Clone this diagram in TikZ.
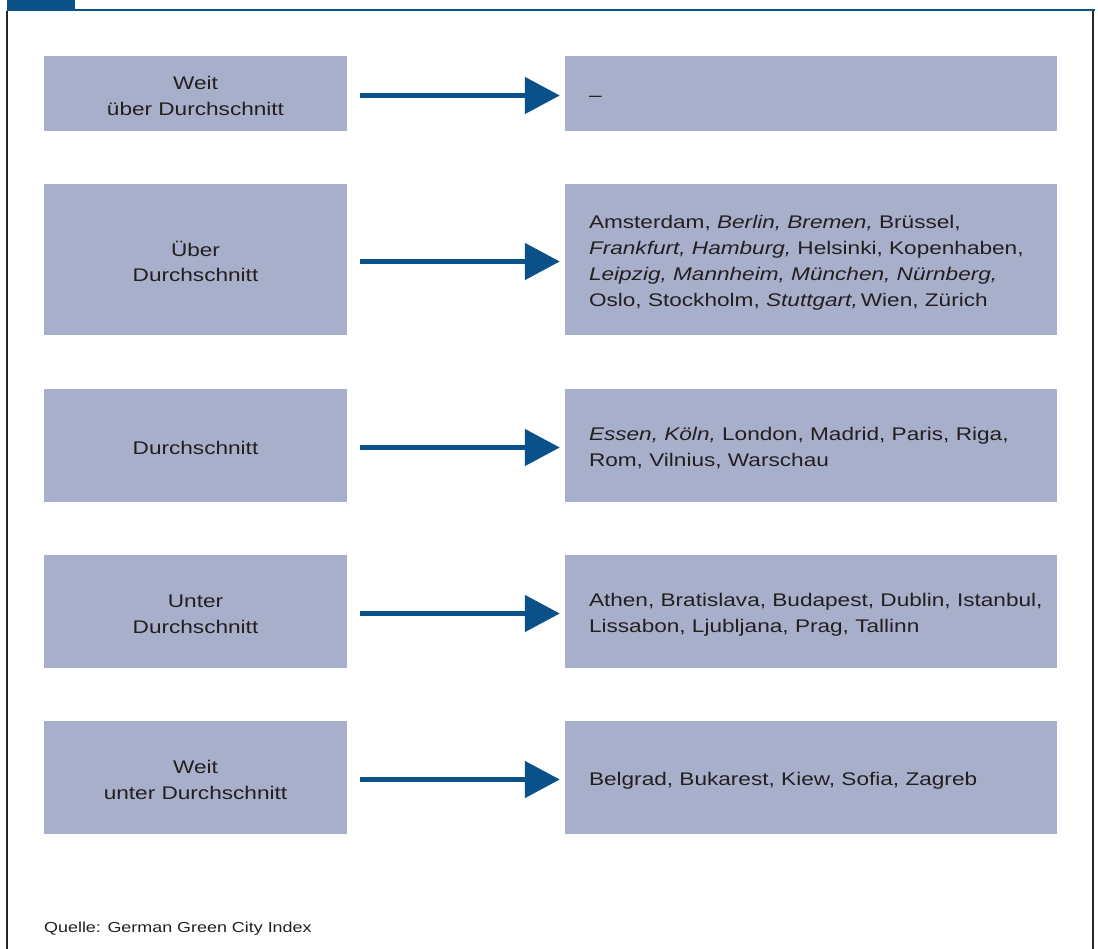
\documentclass[tikz,border=0pt]{standalone}
\usepackage{fontspec}
\setmainfont[FakeStretch=1.235]{Liberation Sans}
\usetikzlibrary{arrows.meta}
\definecolor{boxfill}{HTML}{A8AFCB}
\definecolor{darkblue}{HTML}{0B5189}
\definecolor{textcol}{HTML}{231F20}
\begin{document}
\begin{tikzpicture}[x=1pt,y=-1pt,
  lbox/.style={fill=boxfill, minimum width=303pt, inner sep=0pt},
  rbox/.style={fill=boxfill, minimum width=492pt, inner sep=0pt},
  ltext/.style={align=center, inner sep=0pt, font=\fontsize{18.3}{25.5}\selectfont, text=textcol},
  rtext/.style={anchor=west, align=left, inner sep=0pt, font=\fontsize{18.3}{26}\selectfont, text=textcol},
  arr/.style={darkblue, line width=5pt, -{Triangle[length=35pt,width=36pt]}, shorten <=13pt, shorten >=5pt}]
\useasboundingbox (0,0) rectangle (1098,949);
% frame
\fill[darkblue] (7,0) rectangle (75,10);
\draw[darkblue, line width=2pt] (7,10.5) -- (1095,10.5);
\draw[black!85, line width=1.5pt] (7,11) -- (7,949);
\draw[black!85, line width=1.5pt] (1093,11) -- (1093,949);
% boxes
\node[lbox, minimum height=75pt]  (l1) at (195.5,93.5) {};
\node[rbox, minimum height=75pt]  (r1) at (811,93.5) {};
\node[lbox, minimum height=151pt] (l2) at (195.5,259.5) {};
\node[rbox, minimum height=151pt] (r2) at (811,259.5) {};
\node[lbox, minimum height=113pt] (l3) at (195.5,445.5) {};
\node[rbox, minimum height=113pt] (r3) at (811,445.5) {};
\node[lbox, minimum height=113pt] (l4) at (195.5,611.5) {};
\node[rbox, minimum height=113pt] (r4) at (811,611.5) {};
\node[lbox, minimum height=113pt] (l5) at (195.5,777.5) {};
\node[rbox, minimum height=113pt] (r5) at (811,777.5) {};
% left texts
\node[ltext] (lt1) at ([yshift=-2pt]l1.center) {\rule{0pt}{14pt}Weit\\über Durchschnitt};
\node[ltext] (lt2) at ([yshift=-2pt]l2.center) {\rule{0pt}{14pt}Über\\Durchschnitt};
\node[ltext] (lt3) at ([yshift=-2pt]l3.center) {Durchschnitt};
\node[ltext] (lt4) at ([yshift=-2pt]l4.center) {\rule{0pt}{14pt}Unter\\Durchschnitt};
\node[ltext] (lt5) at ([yshift=-2pt]l5.center) {\rule{0pt}{14pt}Weit\\unter Durchschnitt};
% right texts
\node[rtext] (rt1) at ([xshift=24pt,yshift=-5pt]r1.west) {–};
\node[rtext] (rt2) at ([xshift=24pt,yshift=-3.5pt]r2.west) {Amsterdam, \textit{Berlin, Bremen,} Brüssel,\\\textit{Frankfurt, Hamburg,} Helsinki, Kopenhaben,\\\textit{Leipzig, Mannheim, München, Nürnberg,}\\Oslo, Stockholm, \textit{Stuttgart,}\,Wien, Zürich};
\node[rtext] (rt3) at ([xshift=24pt,yshift=-3pt]r3.west) {\textit{Essen, Köln,} London, Madrid, Paris, Riga,\\Rom, Vilnius, Warschau};
\node[rtext] (rt4) at ([xshift=24pt,yshift=-3pt]r4.west) {Athen, Bratislava, Budapest, Dublin, Istanbul,\\Lissabon, Ljubljana, Prag, Tallinn};
\node[rtext] (rt5) at ([xshift=24pt,yshift=-3pt]r5.west) {Belgrad, Bukarest, Kiew, Sofia, Zagreb};
% arrows
\foreach \i in {1,...,5}{
  \draw[arr] ([yshift=-2pt]l\i.east) -- ([yshift=-2pt]l\i.east -| r\i.west);
}
\node[anchor=west, inner sep=0pt, font=\fontsize{14.5}{16}\selectfont, text=textcol] (src) at (44,929) {Quelle: German Green City Index};
\end{tikzpicture}
\end{document}
